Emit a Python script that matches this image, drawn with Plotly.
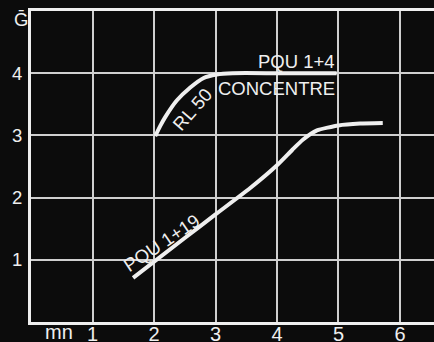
import plotly.graph_objects as go

# Data
rl50_x = [2.02, 2.10, 2.18, 2.37, 2.59, 2.80, 3.02, 3.28, 4.0, 4.97]
rl50_y = [2.99, 3.15, 3.29, 3.56, 3.77, 3.92, 3.98, 4.0, 4.0, 4.0]

pqu19_x = [1.66, 2.5, 3.0, 3.56, 4.0, 4.25, 4.42, 4.65, 5.0, 5.35, 5.72]
pqu19_y = [0.71, 1.35, 1.73, 2.15, 2.52, 2.77, 2.93, 3.08, 3.16, 3.19, 3.20]

x_ticks = [1, 2, 3, 4, 5, 6]
y_ticks = [1, 2, 3, 4]

FG = "#efefef"
BG = "#0c0c0c"
FONT = "Liberation Sans"
FS = 18.5

fig = go.Figure()
fig.add_trace(go.Scatter(x=rl50_x, y=rl50_y, mode="lines",
                         line=dict(color=FG, width=4, shape="spline", smoothing=0.5),
                         hoverinfo="skip", showlegend=False))
fig.add_trace(go.Scatter(x=pqu19_x, y=pqu19_y, mode="lines",
                         line=dict(color=FG, width=4, shape="spline", smoothing=0.5),
                         hoverinfo="skip", showlegend=False))

ann_font = dict(family=FONT, size=FS, color=FG)
fig.add_annotation(x=4.97, y=4.19, text="PQU 1+4", showarrow=False,
                   xanchor="right", yanchor="middle", font=ann_font)
fig.add_annotation(x=4.97, y=3.76, text="CONCENTRE", showarrow=False,
                   xanchor="right", yanchor="middle", font=ann_font)
fig.add_annotation(x=2.62, y=3.42, text="RL 50", showarrow=False,
                   textangle=-49, font=ann_font)
fig.add_annotation(x=2.13, y=1.28, text="PQU 1+19", showarrow=False,
                   textangle=-34, font=ann_font)
# axis titles
fig.add_annotation(xref="paper", yref="paper", x=-0.047, y=1.012, text="Ḡ",
                   showarrow=False, font=dict(family=FONT, size=FS, color=FG))
fig.add_annotation(xref="paper", yref="paper", x=0.03, y=-0.032, text="mn",
                   showarrow=False, yanchor="middle",
                   font=dict(family=FONT, size=20, color=FG))

fig.update_layout(
    width=434, height=342,
    margin=dict(l=31, r=0, t=11, b=20, autoexpand=False),
    paper_bgcolor=BG, plot_bgcolor=BG,
    font=dict(family=FONT, size=FS, color=FG),
    xaxis=dict(range=[0, 6.553], tickvals=x_ticks, ticktext=[str(v) for v in x_ticks],
               showgrid=True, gridcolor="#cfcfcf", gridwidth=1.5,
               showline=True, linecolor=FG, linewidth=3, mirror=True,
               zeroline=False, ticks="", ticklabelstandoff=-8, automargin=False,
               tickfont=dict(family=FONT, size=20, color=FG)),
    yaxis=dict(range=[0, 5], tickvals=y_ticks, ticktext=[str(v) for v in y_ticks],
               showgrid=True, gridcolor="#cfcfcf", gridwidth=1.5,
               showline=True, linecolor=FG, linewidth=3, mirror=False,
               zeroline=False, ticks="", ticklabelstandoff=2, automargin=False,
               tickfont=dict(family=FONT, size=FS, color=FG)),
)

fig.write_html("out.html", config={"displayModeBar": False},
               post_script="document.body.style.margin='0';document.body.style.padding='0';document.body.style.background='#0c0c0c';")
